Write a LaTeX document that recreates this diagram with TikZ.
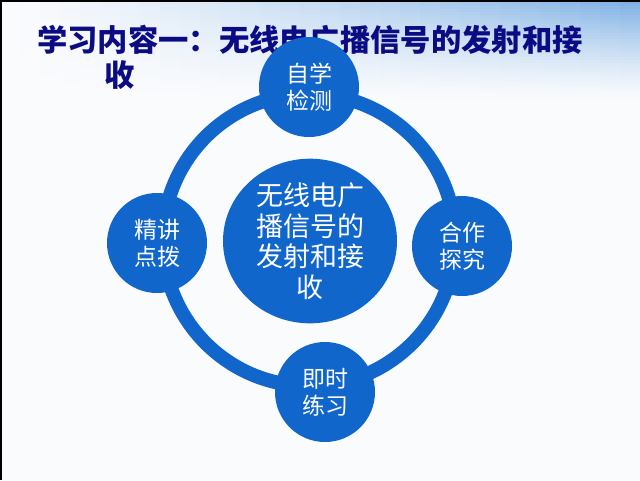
\documentclass[tikz,border=0pt]{standalone}
\usepackage{fontspec}
\newfontfamily\cjk{Noto Sans CJK SC}
\usetikzlibrary{shapes.geometric}
\definecolor{disc}{HTML}{1166CC}
\definecolor{titlec}{HTML}{0B0B84}
\definecolor{sky}{HTML}{7EB0E4}
\definecolor{paper}{RGB}{250,251,253}
\tikzset{
  small/.style={circle, fill=disc, minimum size=100pt, inner sep=0pt, text=white,
    font=\cjk\fontsize{23}{27}\selectfont, align=center},
  big/.style={ellipse, fill=disc, minimum width=174pt, minimum height=158pt, inner sep=0pt,
    text=white, font=\cjk\fontsize{27}{30.5}\selectfont, align=center},
  ring/.style={draw=disc, line width=14pt},
  ttl/.style={anchor=west, text=titlec, font=\cjk\bfseries\fontsize{30.3}{34}\selectfont, inner sep=0pt}
}
\begin{document}
\begin{tikzpicture}
\begin{scope}[x=1pt,y=-1pt]
\path[use as bounding box, fill=paper] (0,0) rectangle (640,480);
\foreach \i in {0,...,33}{
  \foreach \j in {0,...,31}{
    \pgfmathsetmacro{\p}{100*((1-\i/33)^1.3)*((\j/31)^1.2)}
    \fill[sky!\p!paper] ({\j*20},{\i*3}) rectangle ({\j*20+20.5},{\i*3+3.3});
  }
}
\draw[black, line width=1.5pt] (0.75,480) -- (0.75,0.75) -- (640,0.75);
\node[ttl] (t1) at (37,40) {学习内容一：无线电广播信号的发射和接};
\node[ttl] (t2) at (104,75) {收};
\coordinate (c) at (309,240);
\draw[ring] (c) circle (146);
\node[big] (mid) at (310,241) {无线电广\\播信号的\\发射和接\\收};
\node[small] (top) at (309,87) {自学\\检测};
\node[small] (bot) at (325,392) {即时\\练习};
\node[small] (lft) at (157,243) {精讲\\点拨};
\node[small] (rgt) at (462,246) {合作\\探究};
\end{scope}
\end{tikzpicture}
\end{document}
